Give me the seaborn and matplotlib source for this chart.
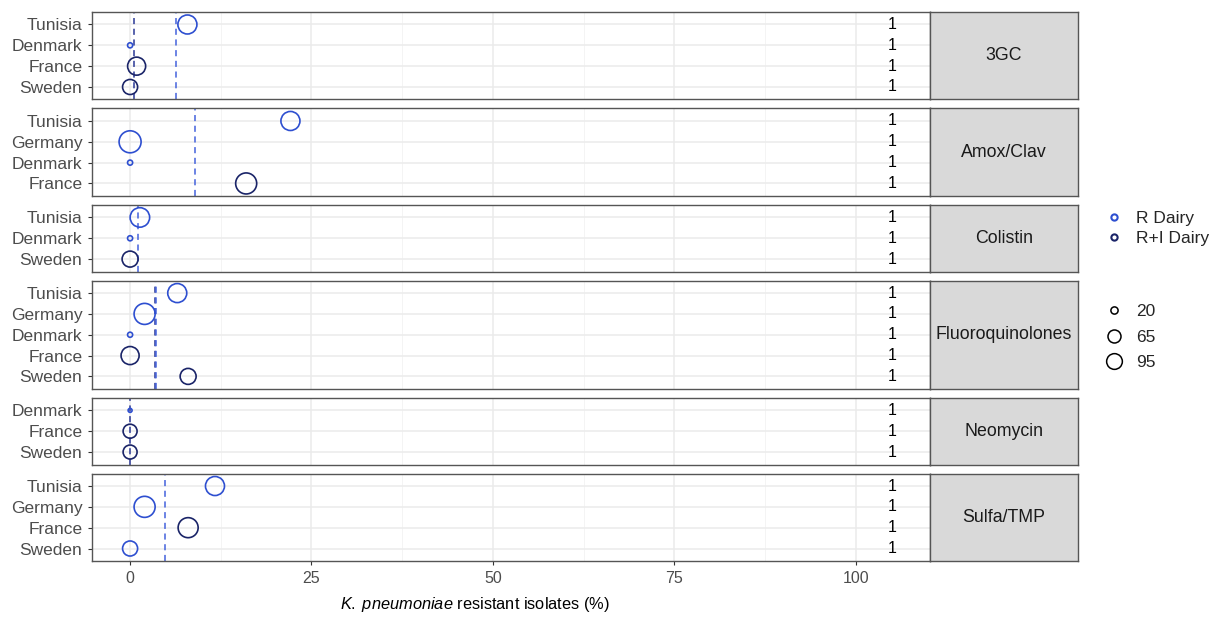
import matplotlib
matplotlib.use("Agg")
import matplotlib.pyplot as plt
import seaborn as sns
import pandas as pd
import numpy as np
from matplotlib.lines import Line2D
from matplotlib.ticker import MultipleLocator

# ---------------- data ----------------
antibiotics = ["3GC", "Amox/Clav", "Colistin", "Fluoroquinolones", "Neomycin", "Sulfa/TMP"]

countries_3gc = ["Tunisia", "Denmark", "France", "Sweden"]
pct_3gc = [7.9, 0.0, 0.9, 0.0]
type_3gc = ["R Dairy", "R Dairy", "R+I Dairy", "R+I Dairy"]
n_3gc = [139, 10, 125, 87]

countries_amox = ["Tunisia", "Germany", "Denmark", "France"]
pct_amox = [22.1, 0.0, 0.0, 16.0]
type_amox = ["R Dairy", "R Dairy", "R Dairy", "R+I Dairy"]
n_amox = [139, 186, 10, 170]

countries_col = ["Tunisia", "Denmark", "Sweden"]
pct_col = [1.35, 0.0, 0.0]
type_col = ["R Dairy", "R Dairy", "R+I Dairy"]
n_col = [146, 10, 98]

countries_fq = ["Tunisia", "Germany", "Denmark", "France", "Sweden"]
pct_fq = [6.5, 2.0, 0.0, 0.0, 8.0]
type_fq = ["R Dairy", "R Dairy", "R Dairy", "R+I Dairy", "R+I Dairy"]
n_fq = [139, 170, 10, 125, 98]

countries_neo = ["Denmark", "France", "Sweden"]
pct_neo = [0.0, 0.0, 0.0]
type_neo = ["R Dairy", "R+I Dairy", "R+I Dairy"]
n_neo = [6, 75, 75]

countries_sul = ["Tunisia", "Germany", "France", "Sweden"]
pct_sul = [11.7, 2.0, 8.0, 0.0]
type_sul = ["R Dairy", "R Dairy", "R+I Dairy", "R Dairy"]
n_sul = [139, 170, 154, 87]

# dashed reference lines (value, type) per antibiotic
ref_3gc = [(0.5, "R+I Dairy"), (6.3, "R Dairy")]
ref_amox = [(8.9, "R Dairy")]
ref_col = [(1.1, "R Dairy")]
ref_fq = [(3.4, "R+I Dairy"), (3.6, "R Dairy")]
ref_neo = [(0.0, "R+I Dairy")]
ref_sul = [(4.8, "R Dairy")]

count_label = "1"
count_x = 105
legend_sizes = [20, 65, 95]
types = ["R Dairy", "R+I Dairy"]

# ---------------- build tables ----------------
panels = [
    (countries_3gc, pct_3gc, type_3gc, n_3gc, ref_3gc),
    (countries_amox, pct_amox, type_amox, n_amox, ref_amox),
    (countries_col, pct_col, type_col, n_col, ref_col),
    (countries_fq, pct_fq, type_fq, n_fq, ref_fq),
    (countries_neo, pct_neo, type_neo, n_neo, ref_neo),
    (countries_sul, pct_sul, type_sul, n_sul, ref_sul),
]

# ---------------- style ----------------
sns.set_style("white")
plt.rcParams["font.family"] = ["Liberation Sans", "DejaVu Sans"]
plt.rcParams["mathtext.fontset"] = "custom"
plt.rcParams["mathtext.rm"] = "Liberation Sans"
plt.rcParams["mathtext.it"] = "Liberation Sans:italic"

palette = {"R Dairy": "#2E4FD0", "R+I Dairy": "#1A2468"}
line_pal = {"R Dairy": "#4462DC", "R+I Dairy": "#2A3896"}
SIZE_K = 1.35  # points^2 per unit
size_norm = (0, 200)
sizes = (0, 200 * SIZE_K)

W, H = 1223, 624
fig = plt.figure(figsize=(W / 100, H / 100), dpi=100)

left, right = 92 / W, 1078 / W
top, bottom = 1 - 12 / H, 1 - 561 / H
heights = [len(p[0]) + 0.2 for p in panels]
gs = fig.add_gridspec(
    len(panels), 2, width_ratios=[838, 148], height_ratios=heights,
    left=left, right=right, top=top, bottom=bottom, hspace=0.107, wspace=0.0,
)

for i, (ab, (ctry, pct, typ, n, refs)) in enumerate(zip(antibiotics, panels)):
    ax = fig.add_subplot(gs[i, 0])
    df = pd.DataFrame({"country": ctry, "pct": pct, "type": typ, "n": n})
    # grid
    ax.set_xlim(-5.25, 110.25)
    ax.xaxis.set_major_locator(MultipleLocator(25))
    ax.xaxis.set_minor_locator(MultipleLocator(12.5))
    ax.grid(True, which="major", axis="both", color="#EBEBEB", lw=1.1, zorder=0)
    ax.grid(True, which="minor", axis="x", color="#F2F2F2", lw=0.6, zorder=0)
    ax.set_axisbelow(True)

    for val, t in refs:
        ax.axvline(val, color=line_pal[t], lw=1.1, dashes=(4, 3), zorder=2)

    sns.scatterplot(
        data=df, x="pct", y="country", hue="type", hue_order=types,
        palette=palette, size="n", sizes=sizes, size_norm=size_norm,
        legend=False, ax=ax, zorder=3,
    )
    pc = ax.collections[-1]
    fc = pc.get_facecolors()
    pc.set_edgecolors(fc)
    pc.set_facecolors("none")
    pc.set_linewidths(1.2)

    for j, c in enumerate(ctry):
        ax.text(count_x, j, count_label, ha="center", va="center",
                fontsize=11.5, color="black", zorder=4)

    ax.set_ylim(len(ctry) - 1 + 0.6, -0.6)
    ax.set_ylabel("")
    ax.set_xlabel("")
    ax.tick_params(axis="y", labelsize=12.5, colors="#333333", labelcolor="#4D4D4D",
                   length=3, width=0.8, pad=4, left=True)
    ax.tick_params(axis="x", which="major", length=3, width=0.8, colors="#333333",
                   labelcolor="#4D4D4D", labelsize=11.5, bottom=True, pad=4)
    ax.tick_params(axis="x", which="minor", length=0)
    for s in ax.spines.values():
        s.set_color("#555555")
        s.set_linewidth(1.0)
    if i < len(panels) - 1:
        ax.tick_params(axis="x", labelbottom=False, bottom=False)
    else:
        ax.set_xlabel(r"$\mathit{K.\;pneumoniae}$ resistant isolates (%)",
                      fontsize=11.8, color="black")
        ax.xaxis.set_label_coords((475 - 92) / 838, -0.39)

    sax = fig.add_subplot(gs[i, 1])
    sax.set_facecolor("#D9D9D9")
    sax.set_xticks([])
    sax.set_yticks([])
    for s in sax.spines.values():
        s.set_color("#555555")
        s.set_linewidth(1.0)
    sax.text(0.5, 0.5, ab, transform=sax.transAxes, ha="center", va="center",
             fontsize=12.8, color="#1A1A1A")

# ---------------- legends ----------------
hue_handles = [
    Line2D([], [], marker="o", ls="", mfc="none", mec=palette[t], mew=1.5, markersize=4.5)
    for t in types
]
leg1 = fig.legend(hue_handles, types, loc="center left",
                  bbox_to_anchor=(1105 / W, 1 - 228.5 / H), frameon=False,
                  fontsize=12.5, handlelength=1.0, handletextpad=0.8,
                  labelspacing=0.3, borderpad=0, borderaxespad=0)

size_handles = [
    Line2D([], [], marker="o", ls="", mfc="none", mec="black", mew=1.1,
           markersize=np.sqrt(SIZE_K * v))
    for v in legend_sizes
]
leg2 = fig.legend(size_handles, [str(v) for v in legend_sizes], loc="center left",
                  bbox_to_anchor=(1105 / W, 1 - 337 / H), frameon=False,
                  fontsize=12.5, handlelength=1.0, handletextpad=0.8,
                  labelspacing=0.62, borderpad=0, borderaxespad=0)

fig.savefig("out.png", dpi=100)
